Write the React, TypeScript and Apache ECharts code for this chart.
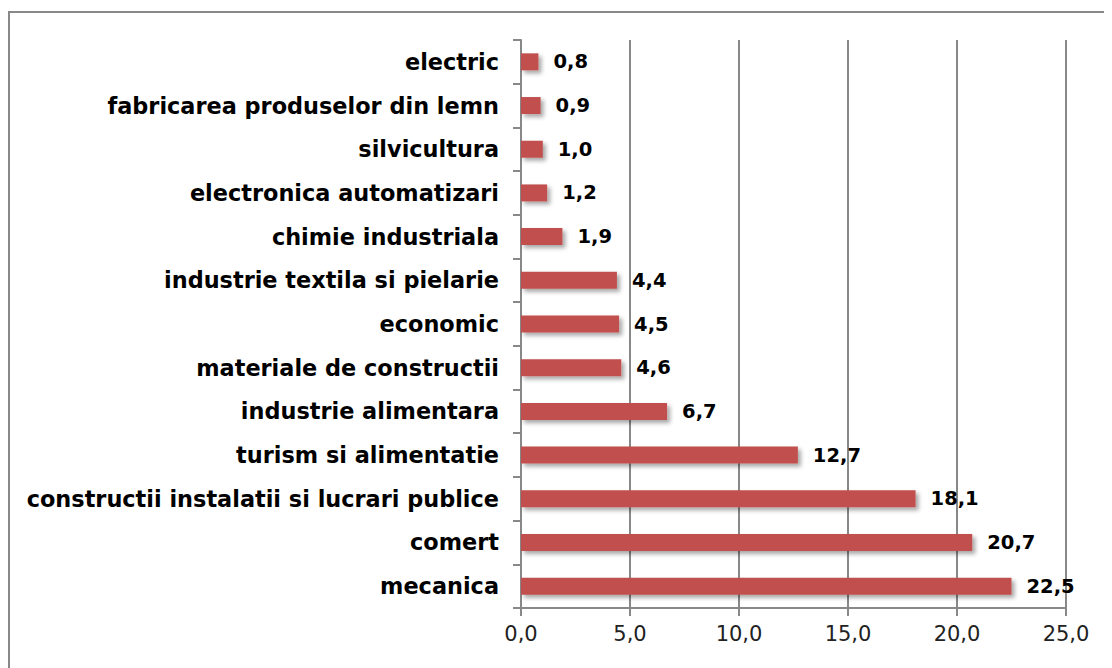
import React, { useEffect, useRef } from "react";
import * as echarts from "echarts";

const categories = [
  "mecanica",
  "comert",
  "constructii instalatii si lucrari publice",
  "turism si alimentatie",
  "industrie alimentara",
  "materiale de constructii",
  "economic",
  "industrie textila si pielarie",
  "chimie industriala",
  "electronica automatizari",
  "silvicultura",
  "fabricarea produselor din lemn",
  "electric",
];
const values = [22.5, 20.7, 18.1, 12.7, 6.7, 4.6, 4.5, 4.4, 1.9, 1.2, 1.0, 0.9, 0.8];

const fmt = (v: number) => v.toFixed(1).replace(".", ",");

export default function App() {
  const ref = useRef<HTMLDivElement>(null);
  useEffect(() => {
    if (!ref.current) return;
    const chart = echarts.init(ref.current, undefined, { renderer: "svg" });
    chart.setOption({
      animation: false,
      backgroundColor: "#ffffff",
      graphic: [
        {
          type: "rect",
          silent: true,
          shape: { x: 1, y: 4, width: 1300, height: 800 },
          style: { fill: "none", stroke: "#888888", lineWidth: 2 },
        },
      ],
      grid: { left: 513, right: 46, top: 32, bottom: 60, containLabel: false },
      xAxis: {
        type: "value",
        min: 0,
        max: 25,
        interval: 5,
        axisLine: { show: true, lineStyle: { color: "#888888", width: 2 } },
        axisTick: { show: true, length: 8, lineStyle: { color: "#888888", width: 2 } },
        splitLine: { show: true, lineStyle: { color: "#888888", width: 2 } },
        axisLabel: {
          formatter: (v: number) => fmt(v),
          fontFamily: "DejaVu Sans",
          fontSize: 21,
          color: "#222222",
          margin: 15,
        },
      },
      yAxis: {
        type: "category",
        data: categories,
        axisLine: { show: true, lineStyle: { color: "#888888", width: 2 } },
        axisTick: { show: true, length: 8, lineStyle: { color: "#888888", width: 2 } },
        splitLine: { show: false },
        axisLabel: {
          fontFamily: "DejaVu Sans",
          fontWeight: "bold",
          fontSize: 22.4,
          color: "#000000",
          margin: 22,
          padding: [4, 0, 0, 0],
        },
      },
      series: [
        {
          type: "bar",
          data: values,
          barWidth: 17,
          itemStyle: {
            color: "#c0504d",
            shadowColor: "rgba(0,0,0,0.35)",
            shadowBlur: 4,
            shadowOffsetX: 3,
            shadowOffsetY: 3,
          },
          label: {
            show: true,
            position: "right",
            distance: 15,
            formatter: (p: any) => fmt(p.value),
            fontFamily: "DejaVu Sans",
            fontWeight: "bold",
            fontSize: 19.5,
            color: "#000000",
          },
        },
      ],
    });
    return () => chart.dispose();
  }, []);
  return <div ref={ref} style={{ width: 1104, height: 660 }} />;
}
